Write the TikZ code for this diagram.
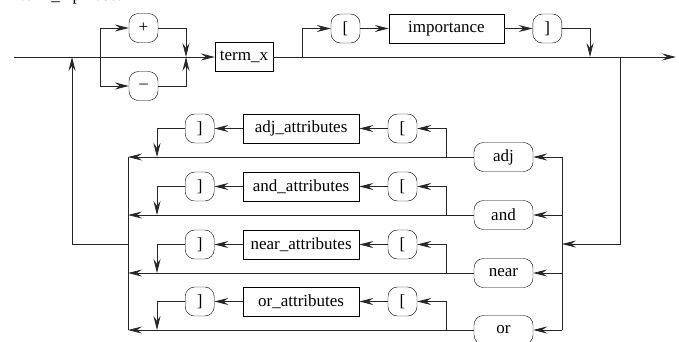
\documentclass[tikz,border=0pt]{standalone}
\usepackage{fontspec}
\setmainfont{Liberation Serif}
\usetikzlibrary{arrows.meta,positioning}

\begin{document}
\begin{tikzpicture}[
    x=1pt, y=-1pt,
    node distance=28.5pt,
    term/.style={draw, rounded corners=9.5pt, minimum height=29pt, minimum width=29pt,
                 inner sep=2pt, font=\fontsize{17}{20}\selectfont},
    nonterm/.style={draw, minimum height=29pt, minimum width=116pt,
                    inner sep=3pt, font=\fontsize{17}{20}\selectfont},
    line/.style={line width=0.8pt, black!85},
    arrow/.style={line, -{Stealth[length=14pt, width=7pt, inset=5pt]}},
]
\useasboundingbox (0,0) rectangle (679,341);

% Heading (cut by the page edge)
\node[font=\fontsize{17}{20}\selectfont, anchor=base west, inner sep=0pt] (title) at (20,0.5) {term\_x phrase:};

% Main line
\coordinate (start) at (14,57);
\coordinate (end) at (676,57);
\coordinate (split1) at (100,57);
\coordinate (join1) at (186,57);
\coordinate (split2) at (302,57);
\coordinate (join2) at (590,57);
\coordinate (split3) at (620,57);
\coordinate (back) at (72,57);

% Sign
\node[term] (plus) at (143.5,28) {+};
\node[term] (minus) at (143.5,86) {--};

% Term
\node[nonterm, minimum width=58pt] (termx) at (244,57) {term\_x};

% Importance
\node[term] (lbr) at (345.5,28.5) {[};
\node[nonterm, minimum width=115pt, right=of lbr] (imp) {importance};
\node[term, right=of imp] (rbr) {]};

\draw[arrow] (start) -- (termx);
\draw[arrow] (split1) |- (plus);
\draw[arrow] (split1) |- (minus);
\draw[arrow] (plus) -| (join1);
\draw[arrow] (minus) -| (join1);

\draw[arrow] (termx) -- (end);
\draw[arrow] (split2) |- (lbr);
\draw[arrow] (lbr) -- (imp);
\draw[arrow] (imp) -- (rbr);
\draw[arrow] (rbr) -| (join2);

% Operators
\coordinate (bus) at (562,244);
\coordinate (coll) at (128,244);

\foreach \name/\y in {adj/157, and/215, near/273, or/330} {
  \node[term, minimum width=59pt] (\name) at (503.5,\y) {\name};
  \node[term] (l\name) at (402.5,\y-28.5) {[};
  \node[nonterm, left=of l\name] (a\name) {\name\_attributes};
  \node[term, left=of a\name] (r\name) {]};
  \coordinate (s\name) at (446,\y);
  \coordinate (d\name) at (157,\y);

  \draw[arrow] (bus |- \name) -- (\name);
  \draw[arrow] (\name) -- (coll |- \name);
  \draw[arrow] (s\name) |- (l\name);
  \draw[arrow] (l\name) -- (a\name);
  \draw[arrow] (a\name) -- (r\name);
  \draw[arrow] (r\name) -| (d\name);
}

\draw[line] (bus |- adj) -- (bus |- or);
\draw[line] (coll |- adj) -- (coll |- or);
\draw[arrow] (split3) |- (bus);

% Loop back
\draw[arrow] (coll) -| (back);

\end{tikzpicture}
\end{document}
